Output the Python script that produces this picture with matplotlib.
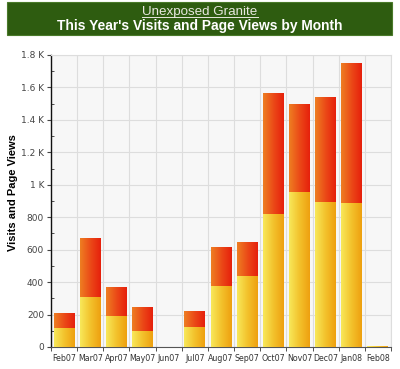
import matplotlib
matplotlib.use("Agg")
import matplotlib.pyplot as plt
import numpy as np
from matplotlib.patches import Rectangle
from matplotlib.colors import LinearSegmentedColormap
from matplotlib.ticker import MultipleLocator, FixedLocator

months = ["Feb07", "Mar07", "Apr07", "May07", "Jun07", "Jul07", "Aug07",
          "Sep07", "Oct07", "Nov07", "Dec07", "Jan08", "Feb08"]
visits = [119, 310, 191, 97, 0, 125, 376, 438, 818, 957, 892, 886, 4]
page_views = [89, 360, 181, 148, 0, 99, 241, 207, 746, 543, 651, 863, 0]
y_ticks = [0, 200, 400, 600, 800, 1000, 1200, 1400, 1600, 1800]
y_tick_labels = ["0", "200", "400", "600", "800", "1 K", "1.2 K", "1.4 K", "1.6 K", "1.8 K"]

fig = plt.figure(figsize=(4.0, 3.69), dpi=100)
fig.patch.set_facecolor("white")

H = 369.0
# Title box
fig.patches.append(Rectangle((7/400, 1-35/H), 385/400, 33/H, transform=fig.transFigure,
                             facecolor="#2e5c10", edgecolor="#4a7a2a", lw=0.8))
t1 = fig.text(0.5, 1-15/H, "Unexposed Granite", ha="center", va="baseline", color="#e8e8e0",
              fontsize=9.6, family="Liberation Sans")
fig.add_artist(plt.Line2D([142/400, 258/400], [1-16.8/H, 1-16.8/H], color="#e8e8e0", lw=0.7,
                          transform=fig.transFigure))
fig.text(0.5, 1-30/H, "This Year's Visits and Page Views by Month", ha="center", va="baseline",
         color="white", fontsize=9.9, fontweight="bold", family="Liberation Sans")

ax = fig.add_axes([51/400, 1-347/H, 340/400, 292/H])
ax.set_facecolor("#f7f7f7")

yellow = LinearSegmentedColormap.from_list("y", ["#f8e85a", "#f3c22c", "#eea010"])
red = LinearSegmentedColormap.from_list("r", ["#ee7e22", "#eb4a18", "#e6200c"])
grad = np.linspace(0, 1, 64).reshape(1, -1)

w = 0.8
x = np.arange(len(months))
bars1 = ax.bar(x, visits, width=w, color="none", edgecolor="none", zorder=3)
bars2 = ax.bar(x, page_views, width=w, bottom=visits, color="none", edgecolor="none", zorder=3)
for bars, cmap in ((bars1, yellow), (bars2, red)):
    for b in bars:
        h = b.get_height()
        if h <= 0:
            continue
        x0, y0 = b.get_x(), b.get_y()
        im = ax.imshow(grad, extent=(x0, x0 + b.get_width(), y0, y0 + h), cmap=cmap,
                       aspect="auto", zorder=3, interpolation="bilinear")
        im.set_clip_path(b)
ax.set_aspect("auto")
ax.set_xlim(-0.5, len(months)-0.5)
ax.set_ylim(0, 1800)

ax.set_yticks(y_ticks)
ax.set_yticklabels(y_tick_labels)
ax.yaxis.set_minor_locator(MultipleLocator(100))
ax.set_xticks(x)
ax.set_xticklabels(months)
ax.xaxis.set_minor_locator(FixedLocator(np.arange(-0.5, len(months), 1)))
ax.tick_params(axis="x", which="major", length=0, labelsize=5.7, colors="#333333", pad=5)
ax.tick_params(axis="x", which="minor", length=3, direction="out", color="#333333")
ax.tick_params(axis="y", which="major", length=3, direction="out", labelsize=6.5, colors="#444444", pad=2)
ax.tick_params(axis="y", which="minor", length=2.5, direction="in", color="#333333")
ax.grid(True, axis="y", which="major", color="#dddddd", lw=0.8, zorder=0)
ax.grid(True, axis="x", which="minor", color="#dddddd", lw=0.8, zorder=0)
ax.set_axisbelow(True)
for s in ("top", "right"):
    ax.spines[s].set_color("#dddddd")
ax.spines["left"].set_color("#111111")
ax.spines["bottom"].set_color("#555555")
ax.spines["left"].set_linewidth(1.0)

ax.set_ylabel("Visits and Page Views", fontsize=8, fontweight="bold", family="Liberation Sans")
ax.yaxis.set_label_coords(-33/340, 0.53)

fig.savefig("out.png", dpi=100)
